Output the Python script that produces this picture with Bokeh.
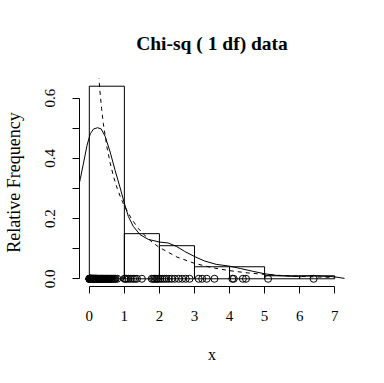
import math
from bokeh.plotting import figure
from bokeh.models import Range1d, FixedTicker, ColumnDataSource
from bokeh.embed import file_html
from bokeh.resources import INLINE

# ---- data ----
bin_left = [0, 1, 2, 3, 4, 5, 6]
bin_right = [1, 2, 3, 4, 5, 6, 7]
rel_freq = [0.64, 0.15, 0.11, 0.04, 0.04, 0.01, 0.01]

samples = [0.001, 0.002, 0.004, 0.005, 0.007, 0.009, 0.011, 0.014, 0.017, 0.02,
           0.024, 0.028, 0.032, 0.036, 0.041, 0.046, 0.052, 0.058, 0.064, 0.07,
           0.077, 0.085, 0.093, 0.1, 0.11, 0.12, 0.13, 0.14, 0.15, 0.16,
           0.17, 0.18, 0.19, 0.2, 0.21, 0.22, 0.24, 0.25, 0.27, 0.28,
           0.3, 0.31, 0.33, 0.35, 0.36, 0.38, 0.4, 0.42, 0.44, 0.46,
           0.48, 0.5, 0.52, 0.54, 0.56, 0.58, 0.6, 0.62, 0.64, 0.66,
           0.69, 0.72, 0.75, 0.8,
           1.0, 1.03, 1.07, 1.12, 1.18, 1.25, 1.3, 1.36, 1.5, 1.78, 1.82, 1.86, 1.9, 1.93, 1.97,
           2.02, 2.08, 2.14, 2.2, 2.27, 2.35, 2.44, 2.55, 2.65, 2.75, 2.86,
           3.12, 3.22, 3.35, 3.57,
           4.08, 4.12, 4.38, 4.47,
           5.1,
           6.4]

kde_x = [-0.3, -0.255, -0.16, -0.066, 0.028, 0.123, 0.236, 0.34, 0.453, 0.595, 0.737,
         0.878, 0.99, 1.114, 1.256, 1.445, 1.68, 2.01, 2.25, 2.48, 2.72, 3.0,
         3.29, 3.62, 4.0, 4.32, 4.66, 4.99, 5.36, 5.84, 6.4, 6.97, 7.3]
kde_y = [0.31, 0.333, 0.388, 0.443, 0.482, 0.498, 0.502, 0.498, 0.473, 0.421, 0.36,
         0.303, 0.255, 0.207, 0.174, 0.147, 0.131, 0.122, 0.119, 0.108, 0.091, 0.074,
         0.059, 0.048, 0.042, 0.034, 0.025, 0.017, 0.011, 0.008, 0.01, 0.007, 0.001]

true_x = [0.25, 0.3, 0.35, 0.4, 0.5, 0.6, 0.7, 0.8, 0.9, 1.0, 1.2, 1.4, 1.6, 1.8,
          2.0, 2.5, 3.0, 3.5, 4.0, 4.5, 5.0, 5.5, 6.0, 6.5, 7.0]
true_y = [0.704, 0.627, 0.566, 0.516, 0.439, 0.382, 0.336, 0.299, 0.268, 0.242, 0.200,
          0.167, 0.142, 0.121, 0.104, 0.0723, 0.0514, 0.0371, 0.0270, 0.0198, 0.0146,
          0.0109, 0.0081, 0.0061, 0.0046]

x_ticks = [0, 1, 2, 3, 4, 5, 6, 7]
y_ticks = [0.0, 0.1, 0.2, 0.3, 0.4, 0.5, 0.6]
y_tick_labels = ["0.0", "", "0.2", "", "0.4", "", "0.6"]

FONT = "Liberation Serif"

p = figure(width=384, height=383, output_backend="svg", toolbar_location=None,
           x_range=Range1d(-0.28, 7.28), y_range=Range1d(-0.0256, 0.6656),
           min_border_left=77, min_border_right=40, min_border_top=78, min_border_bottom=97,
           title="Chi-sq ( 1 df) data")
p.outline_line_color = None
p.xgrid.visible = False
p.ygrid.visible = False
p.background_fill_color = "white"
p.border_fill_color = "white"

p.title.align = "center"
p.title.vertical_align = "middle"
p.title.text_font = FONT
p.title.text_font_size = "19.5px"
p.title.text_font_style = "bold"
p.title.text_color = "black"
p.title.standoff = 47

hist_src = ColumnDataSource(dict(left=bin_left, right=bin_right, top=rel_freq,
                                 bottom=[0] * len(rel_freq)))
p.quad(left="left", right="right", top="top", bottom="bottom", source=hist_src,
       fill_color=None, line_color="black", line_width=1)

p.line(kde_x, kde_y, line_color="black", line_width=1)
p.line(true_x, true_y, line_color="black", line_width=1, line_dash="4 4")

p.scatter(samples, [0] * len(samples), marker="circle", size=7,
          fill_color=None, line_color="black", line_width=1)

for ax in (p.xaxis[0], p.yaxis[0]):
    ax.major_tick_out = 7
    ax.major_tick_in = 0
    ax.minor_tick_line_color = None
    ax.axis_line_color = "black"
    ax.major_tick_line_color = "black"
    ax.major_label_text_font = FONT
    ax.major_label_text_font_size = "15px"
    ax.major_label_text_color = "black"
    ax.axis_label_text_font = FONT
    ax.axis_label_text_font_style = "normal"
    ax.axis_label_text_color = "black"

p.xaxis.ticker = FixedTicker(ticks=x_ticks)
p.xaxis.bounds = (x_ticks[0], x_ticks[-1])
p.xaxis.axis_label = "x"
p.xaxis.axis_label_text_font_size = "16px"
p.xaxis.major_label_standoff = 17
p.xaxis.axis_label_standoff = 22

p.yaxis.ticker = FixedTicker(ticks=y_ticks)
p.yaxis.bounds = (y_ticks[0], y_ticks[-1])
p.yaxis.major_label_overrides = {t: l for t, l in zip(y_ticks, y_tick_labels)}
p.yaxis.major_label_orientation = "vertical"
p.yaxis.axis_label = "Relative Frequency"
p.yaxis.axis_label_text_font_size = "18px"
p.yaxis.major_label_standoff = 17
p.yaxis.axis_label_standoff = 19

open("out.html", "w").write(file_html(p, INLINE))
